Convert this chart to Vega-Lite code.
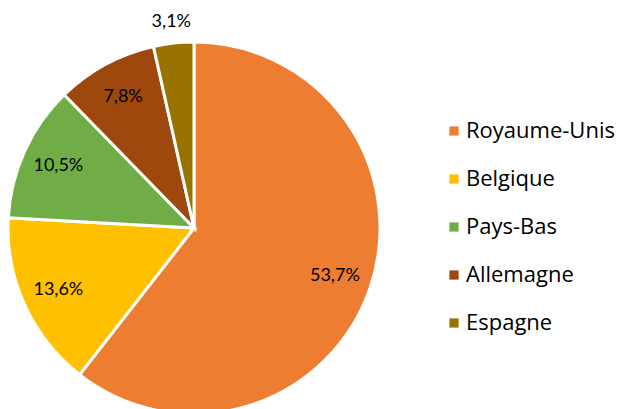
{
  "$schema": "https://vega.github.io/schema/vega-lite/v6.json",
  "autosize": "none",
  "width": 388,
  "height": 362,
  "padding": {"left": 0, "top": 47, "right": 242, "bottom": 0},
  "background": "white",
  "config": {"view": {"stroke": null}},
  "data": {
    "values": [
      {"pays": "Royaume-Unis", "part": 53.7, "label": "53,7%", "rang": 1},
      {"pays": "Belgique", "part": 13.6, "label": "13,6%", "rang": 2},
      {"pays": "Pays-Bas", "part": 10.5, "label": "10,5%", "rang": 3},
      {"pays": "Allemagne", "part": 7.8, "label": "7,8%", "rang": 4},
      {"pays": "Espagne", "part": 3.1, "label": "3,1%", "rang": 5}
    ]
  },
  "encoding": {
    "theta": {"field": "part", "type": "quantitative", "stack": true},
    "order": {"field": "rang", "type": "quantitative"}
  },
  "layer": [
    {
      "mark": {"type": "arc", "outerRadius": 186, "stroke": "white", "strokeWidth": 3},
      "encoding": {
        "color": {
          "field": "pays",
          "type": "nominal",
          "scale": {
            "domain": ["Royaume-Unis", "Belgique", "Pays-Bas", "Allemagne", "Espagne"],
            "range": ["#ED7D31", "#FFC000", "#70AD47", "#9E480E", "#997300"]
          },
          "legend": {
            "title": null,
            "orient": "none",
            "legendX": 443,
            "legendY": 73,
            "symbolType": "square",
            "symbolSize": 85,
            "symbolStrokeWidth": 0,
            "labelFontSize": 22,
            "labelFont": "Open Sans",
            "labelColor": "#000000",
            "labelOffset": 1,
            "rowPadding": 26,
            "labelLimit": 300
          }
        }
      }
    },
    {
      "mark": {"type": "text", "radius": 149, "font": "Lato", "fontSize": 18, "color": "#000000"},
      "encoding": {
        "text": {"condition": {"test": "datum.pays === 'Espagne'", "value": ""}, "field": "label", "type": "nominal"}
      }
    },
    {
      "mark": {"type": "text", "radius": 207, "font": "Lato", "fontSize": 18, "color": "#000000"},
      "encoding": {
        "text": {"condition": {"test": "datum.pays !== 'Espagne'", "value": ""}, "field": "label", "type": "nominal"}
      }
    }
  ]
}
